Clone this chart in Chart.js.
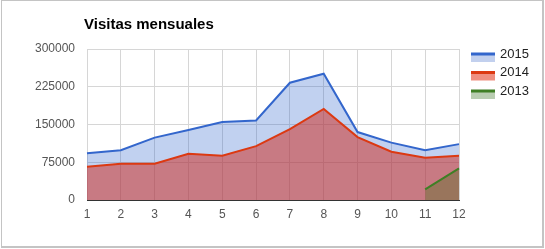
<!DOCTYPE html>
<html>
<head>
<meta charset="utf-8">
<script src="https://cdn.jsdelivr.net/npm/chart.js@4"></script>
<style>
  html, body { margin: 0; padding: 0; background: #fff; }
  #wrap { position: relative; width: 545px; height: 249px; }
  #frame { position: absolute; left: 1px; top: 0; width: 540px; height: 245px; border: 1px solid #c4c4c4; border-width: 1px 2px 2px 1px; pointer-events: none; }
</style>
</head>
<body>
<div id="wrap">
  <canvas id="chart" width="545" height="249"></canvas>
  <div id="frame"></div>
</div>
<script>
const months = ["1", "2", "3", "4", "5", "6", "7", "8", "9", "10", "11", "12"];
const visits2015 = [93000, 99000, 124000, 139000, 155000, 158000, 233000, 251000, 135000, 114000, 99000, 111000];
const visits2014 = [66000, 72000, 72000, 92000, 88000, 107000, 141000, 181000, 125000, 96000, 84000, 88000];
const visits2013 = [null, null, null, null, null, null, null, null, null, null, 21000, 63000];
const yTicks = [0, 75000, 150000, 225000, 300000];

const legendItems = [
  { text: "2015", line: "#3366cc", fill: "#c2d0ee" },
  { text: "2014", line: "#dc3912", fill: "#ef8f80" },
  { text: "2013", line: "#3f7f25", fill: "#b9cdb1" }
];

// title + legend drawn by hand so they sit where the original has them
const extras = {
  id: "extras",
  afterDraw(chart) {
    const ctx = chart.ctx;
    ctx.save();
    ctx.fillStyle = "#000";
    ctx.font = "bold 15px Arial, 'Liberation Sans', sans-serif";
    ctx.textBaseline = "middle";
    ctx.textAlign = "left";
    ctx.fillText("Visitas mensuales", 84, 25);

    ctx.font = "13px Arial, 'Liberation Sans', sans-serif";
    legendItems.forEach((item, i) => {
      const y = 54 + i * 18.5;
      ctx.fillStyle = item.fill;
      ctx.fillRect(471, y, 24, 8);
      ctx.fillStyle = item.line;
      ctx.fillRect(471, y - 1.5, 24, 3);
      ctx.fillStyle = "#222";
      ctx.fillText(item.text, 500, y);
    });
    ctx.restore();
  }
};

const ctx = document.getElementById("chart").getContext("2d");
new Chart(ctx, {
  type: "line",
  data: {
    labels: months,
    datasets: [
      { label: "2015", data: visits2015, borderColor: "#3366cc", backgroundColor: "rgba(51,102,204,0.3)", fill: "origin", order: 2 },
      { label: "2014", data: visits2014, borderColor: "#dc3912", backgroundColor: "rgba(205,50,40,0.55)", fill: "origin", order: 1 },
      { label: "2013", data: visits2013, borderColor: "#3f7f25", backgroundColor: "rgba(80,110,30,0.38)", fill: "origin", order: 0 }
    ]
  },
  options: {
    responsive: false,
    animation: false,
    layout: { padding: { top: 49, right: 86, left: 0, bottom: 0 } },
    elements: {
      line: { borderWidth: 2, tension: 0 },
      point: { radius: 0, hoverRadius: 0 }
    },
    plugins: {
      legend: { display: false },
      title: { display: false },
      tooltip: { enabled: false }
    },
    scales: {
      x: {
        offset: false,
        grid: { color: "#d6d6d6", drawTicks: false },
        border: { color: "#333", width: 1 },
        ticks: { color: "#555", font: { family: "Arial", size: 12 }, padding: 7, maxRotation: 0 },
        afterFit(scale) { scale.height = 49; }
      },
      y: {
        min: 0,
        max: 300000,
        afterBuildTicks(scale) { scale.ticks = yTicks.map(v => ({ value: v })); },
        grid: { color: "#d6d6d6", drawTicks: false },
        border: { display: false },
        ticks: { color: "#555", font: { family: "Arial", size: 12 }, padding: 12, callback: v => String(v) },
        afterFit(scale) { scale.width = 87; }
      }
    }
  },
  plugins: [extras]
});
</script>
</body>
</html>
